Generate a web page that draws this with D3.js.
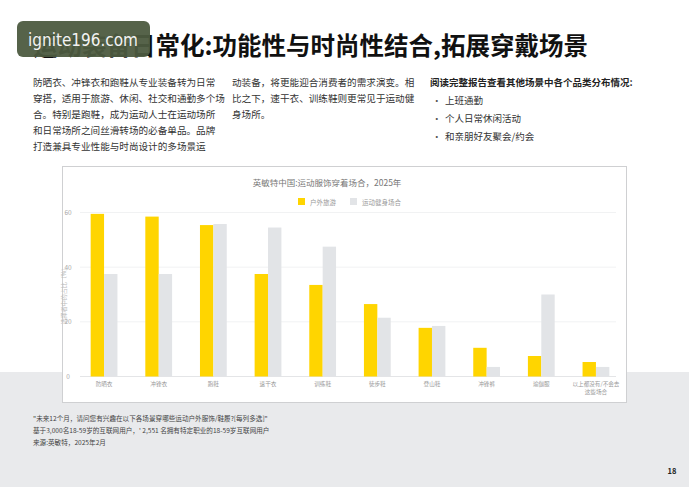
<!DOCTYPE html>
<html>
<head>
<meta charset="utf-8">
<script src="https://cdn.jsdelivr.net/npm/d3@7"></script>
<style>
  html, body { margin: 0; padding: 0; background: #fff; }
  svg { display: block; font-family: "Noto Sans CJK SC", "Noto Sans", sans-serif; }
</style>
</head>
<body>
<script>
const categories = ["防晒衣", "冲锋衣", "跑鞋", "速干衣", "训练鞋", "徒步鞋", "登山鞋", "冲锋裤", "瑜伽服", "以上都没有/不会去|这些场合"];
const outdoor = [59.5, 58.5, 55.4, 37.5, 33.5, 26.5, 17.8, 10.5, 7.5, 5.3];
const fitness = [37.5, 37.5, 55.8, 54.5, 47.5, 21.5, 18.5, 3.5, 30, 3.5];
const seriesNames = ["户外旅游", "运动健身场合"];
const yTicks = [0, 20, 40, 60];

const leftText = ["防晒衣、冲锋衣和跑鞋从专业装备转为日常", "穿搭，适用于旅游、休闲、社交和通勤多个场", "合。特别是跑鞋，成为运动人士在运动场所", "和日常场所之间丝滑转场的必备单品。品牌", "打造兼具专业性能与时尚设计的多场景运"];
const midText = ["动装备，将更能迎合消费者的需求演变。相", "比之下，速干衣、训练鞋则更常见于运动健", "身场所。"];
const bullets = ["上班通勤", "个人日常休闲活动", "和亲朋好友聚会/约会"];
const notes = ["\"未来12个月，请问您有兴趣在以下各场景穿哪些运动户外服饰/鞋履?[每列多选]\"", "基于3,000名18-59岁的互联网用户，' 2,551 名拥有特定职业的18-59岁互联网用户", "来源:英敏特，2025年2月"];

const width = 689, height = 487;
const svg = d3.select("body").append("svg").attr("width", width).attr("height", height);

// page background
svg.append("rect").attr("x", 0).attr("y", 0).attr("width", width).attr("height", height).attr("fill", "#fff");
svg.append("rect").attr("x", 0).attr("y", 372).attr("width", width).attr("height", height - 372).attr("fill", "#e9eaec");

// title
svg.append("text").attr("x", 33).attr("y", 55).attr("font-size", 24.5).attr("font-weight", 700)
  .attr("fill", "#111").text("运动装备日常化:功能性与时尚性结合,拓展穿戴场景");

// watermark
svg.append("rect").attr("x", 17).attr("y", 21).attr("width", 133).attr("height", 36).attr("rx", 6)
  .attr("fill", "#4d5b40").attr("opacity", 0.95);
svg.append("text").attr("x", 83).attr("y", 46).attr("text-anchor", "middle").attr("font-size", 17)
  .attr("font-family", "DejaVu Sans Condensed, DejaVu Sans").attr("fill", "#f2f2f2").text("ignite196.com");

// body text
leftText.forEach((t, i) => svg.append("text").attr("x", 33).attr("y", 86 + i * 16).attr("font-size", 9.6).attr("fill", "#333").text(t));
midText.forEach((t, i) => svg.append("text").attr("x", 232).attr("y", 86 + i * 16).attr("font-size", 9.6).attr("fill", "#333").text(t));
svg.append("text").attr("x", 430).attr("y", 86).attr("font-size", 9.5).attr("font-weight", 700).attr("fill", "#222")
  .text("阅读完整报告查看其他场景中各个品类分布情况:");
bullets.forEach((t, i) => {
  svg.append("text").attr("x", 432).attr("y", 104 + i * 18).attr("font-size", 9.5).attr("fill", "#555").text("·");
  svg.append("text").attr("x", 445).attr("y", 104 + i * 18).attr("font-size", 9.5).attr("fill", "#333").text(t);
});

// chart card
svg.append("rect").attr("x", 62.5).attr("y", 166.5).attr("width", 564).attr("height", 236)
  .attr("fill", "#fff").attr("stroke", "#cfd0d2").attr("stroke-width", 1);

svg.append("text").attr("x", 327).attr("y", 186).attr("text-anchor", "middle").attr("font-size", 8.5)
  .attr("fill", "#777").text("英敏特中国:运动服饰穿着场合，2025年");

// legend
const legendColors = ["#ffd500", "#e2e4e7"];
const legendX = [298, 350];
seriesNames.forEach((n, i) => {
  svg.append("rect").attr("x", legendX[i]).attr("y", 198).attr("width", 7).attr("height", 7).attr("fill", legendColors[i]);
  svg.append("text").attr("x", legendX[i] + 12).attr("y", 204.5).attr("font-size", 6.5).attr("fill", "#999").text(n);
});

const x = d3.scaleBand().domain(categories).range([77, 623]).paddingInner(0.51).paddingOuter(0.25);
const inner = d3.scaleBand().domain(seriesNames).range([0, x.bandwidth()]);
const y = d3.scaleLinear().domain([0, 60]).range([376.5, 212.5]);

// gridlines
svg.append("g").selectAll("line").data(yTicks).join("line")
  .attr("x1", 80).attr("x2", 616).attr("y1", d => y(d)).attr("y2", d => y(d))
  .attr("stroke", d => d === 0 ? "#e4e5e7" : "#f1f2f3").attr("stroke-width", 1);

// y tick labels
svg.append("g").selectAll("text").data(yTicks).join("text")
  .attr("x", 68).attr("y", d => y(d) + 2.5).attr("text-anchor", "middle").attr("font-size", 6.5)
  .attr("fill", "#aaa").text(d => d);

svg.append("text").attr("transform", `translate(66,${y(30)}) rotate(-90)`).attr("text-anchor", "middle")
  .attr("font-size", 6).attr("fill", "#bbb").text("选择者中的占比（%）");

// bars
const rows = categories.map((c, i) => ({ c, vals: [outdoor[i], fitness[i]] }));
const groups = svg.append("g").selectAll("g").data(rows).join("g")
  .attr("transform", d => `translate(${x(d.c)},0)`);
groups.selectAll("rect").data(d => d.vals.map((v, j) => ({ s: seriesNames[j], v, j }))).join("rect")
  .attr("x", d => inner(d.s)).attr("width", inner.bandwidth())
  .attr("y", d => y(d.v)).attr("height", d => y(0) - y(d.v))
  .attr("fill", d => legendColors[d.j]);

// x labels
const xl = svg.append("g").selectAll("text").data(categories).join("text")
  .attr("x", d => x(d) + x.bandwidth() / 2).attr("y", 386).attr("text-anchor", "middle")
  .attr("font-size", 5.6).attr("fill", "#999");
xl.each(function (d) {
  const parts = d.split("|");
  parts.forEach((p, k) => d3.select(this).append("tspan")
    .attr("x", x(d) + x.bandwidth() / 2).attr("dy", k === 0 ? 0 : 7.5).text(p));
});

// footnotes
notes.forEach((t, i) => svg.append("text").attr("x", 33).attr("y", 421 + i * 12).attr("font-size", 6.6).attr("fill", "#444").text(t));

svg.append("text").attr("x", 672).attr("y", 474).attr("text-anchor", "middle").attr("font-size", 7.5)
  .attr("font-weight", 700).attr("fill", "#222").text("18");
</script>
</body>
</html>
